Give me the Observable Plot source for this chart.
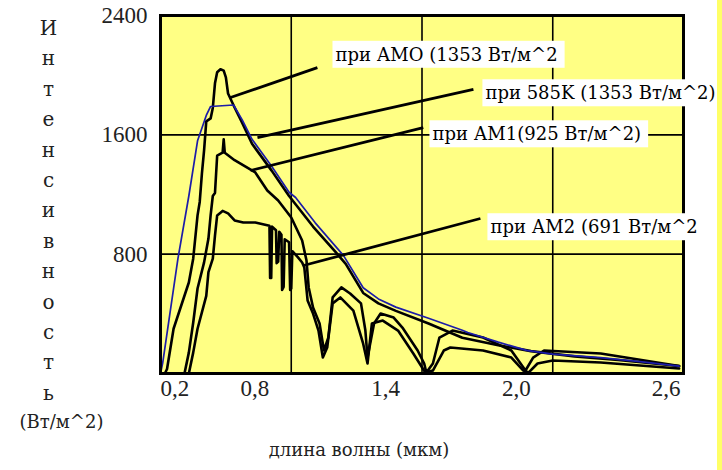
<!DOCTYPE html>
<html><head><meta charset="utf-8">
<script src="https://cdn.jsdelivr.net/npm/d3@7"></script>
<script src="https://cdn.jsdelivr.net/npm/@observablehq/plot@0.6"></script>
<style>
html,body{margin:0;padding:0;background:#fff;}
#wrap{position:relative;width:722px;height:470px;overflow:hidden;background:#fff;}
#strip{position:absolute;left:717px;top:0;width:5px;height:470px;background:#ffff66;}
</style></head><body><div id="wrap"><div id="strip"></div></div>
<script>
// x tick values and labels (wavelength, µm)
const xTicks = [0.2, 0.8, 1.4, 2.0, 2.6];
const xTickLabels = ["0,2", "0,8", "1,4", "2,0", "2,6"];
const xGrid = [0.8, 1.4, 2.0];
// y ticks (W/m^2)
const yTicks = [800, 1600, 2400];
const yGrid = [800, 1600];

const yTitle = "Интенсивность";
const yUnit = "(Вт/м^2)";
const xTitle = "длина волны (мкм)";

// 585K black body curve (blue)
const bb585 = [[0.20,0],[0.21,70],[0.28,770],[0.33,1190],[0.37,1560],[0.41,1730],[0.43,1790],[0.535,1800],[0.575,1700],[0.62,1570],[0.71,1390],[0.79,1215],[0.82,1180],[0.91,1010],[1.04,790],[1.13,575],[1.20,500],[1.28,445],[1.43,370],[1.585,290],[1.61,275],[1.75,210],[1.88,155],[2.0,130],[2.22,107],[2.40,80],[2.58,50]];
// AM0
const am0 = [[0.22,0],[0.23,30],[0.26,300],[0.33,610],[0.35,770],[0.37,1060],[0.38,1150],[0.39,1340],[0.40,1495],[0.41,1690],[0.43,1710],[0.44,1780],[0.45,1945],[0.46,2020],[0.475,2040],[0.49,2030],[0.50,1985],[0.51,1877],[0.54,1783],[0.575,1680],[0.62,1540],[0.71,1360],[0.79,1190],[0.90,985],[1.0,820],[1.05,735],[1.13,540],[1.20,470],[1.28,420],[1.43,335],[1.585,240],[1.75,190],[1.90,150],[2.1,115],[2.3,90],[2.58,50]];
// AM1
const am1 = [[0.31,0],[0.33,140],[0.35,340],[0.37,570],[0.40,745],[0.42,905],[0.43,1060],[0.44,1190],[0.45,1210],[0.46,1460],[0.485,1480],[0.49,1570],[0.495,1480],[0.54,1430],[0.635,1348],[0.69,1227],[0.74,1160],[0.80,1046],[0.85,892],[0.87,757],[0.88,577],[0.90,442],[0.93,335],[0.95,154],[0.97,241],[0.99,510],[1.03,577],[1.07,536],[1.12,470],[1.14,290],[1.15,107],[1.18,335],[1.21,402],[1.27,375],[1.31,308],[1.38,154],[1.41,67],[1.42,7],[1.45,67],[1.48,241],[1.54,288],[1.68,241],[1.81,154],[1.875,20],[1.91,107],[1.96,154],[2.22,134],[2.58,50]];
// AM2
const am2 = [[0.33,0],[0.35,140],[0.37,300],[0.41,520],[0.42,680],[0.44,770],[0.45,925],[0.46,1060],[0.485,1090],[0.51,1073],[0.54,1026],[0.58,1012],[0.635,1012],[0.70,990],[0.703,640],[0.708,640],[0.712,985],[0.73,960],[0.733,740],[0.74,750],[0.745,950],[0.755,930],[0.758,560],[0.765,580],[0.77,900],[0.79,880],[0.795,560],[0.80,570],[0.805,820],[0.83,780],[0.85,744],[0.86,710],[0.875,490],[0.90,402],[0.925,288],[0.945,107],[0.965,174],[0.99,470],[1.025,510],[1.085,422],[1.13,200],[1.15,67],[1.17,335],[1.22,355],[1.29,288],[1.36,134],[1.415,7],[1.45,20],[1.50,154],[1.53,174],[1.68,154],[1.81,107],[1.865,20],[1.89,7],[1.93,67],[2.0,87],[2.22,74],[2.58,34]];

// annotation labels with leader lines (data units)
const annLabels = ["при АМО (1353 Вт/м^2", "при 585K (1353 Вт/м^2)", "при АМ1(925 Вт/м^2)", "при АМ2 (691 Вт/м^2"];
const annTextX = [1.003, 1.691, 1.448, 1.714];
const annTextY = [2135, 1877, 1602, 979];
const annFromX = [0.521, 0.645, 0.613, 0.856];
const annFromY = [1850, 1582, 1361, 724];
const annToX = [0.920, 1.636, 1.406, 1.668];
const annToY = [2051, 1904, 1649, 1039];
const ann = annLabels.map((t, i) => ({t, tx: annTextX[i], ty: annTextY[i], x1: annFromX[i], y1: annFromY[i], x2: annToX[i], y2: annToY[i]}));

const xt = xTicks.map((v, i) => ({v, t: xTickLabels[i]}));

const chart = Plot.plot({
  width: 722, height: 470,
  marginLeft: 160, marginRight: 39, marginTop: 15, marginBottom: 97,
  style: {background: "transparent", fontFamily: "Liberation Serif", overflow: "visible"},
  x: {domain: [0.2, 2.6], axis: null},
  y: {domain: [0, 2400], axis: null},
  marks: [
    Plot.frame({fill: "#ffff84", stroke: "none"}),
    Plot.ruleX(xGrid, {stroke: "#000", strokeWidth: 1.6}),
    Plot.ruleY(yGrid, {stroke: "#000", strokeWidth: 1.6}),
    Plot.line(am2, {x: d => d[0], y: d => d[1], stroke: "#000", strokeWidth: 2.6}),
    Plot.line(am1, {x: d => d[0], y: d => d[1], stroke: "#000", strokeWidth: 2.6}),
    Plot.line(am0, {x: d => d[0], y: d => d[1], stroke: "#000", strokeWidth: 2.6}),
    Plot.line(bb585, {x: d => d[0], y: d => d[1], stroke: "#1c1ca8", strokeWidth: 1.7}),
    Plot.frame({stroke: "#000", strokeWidth: 3}),
    Plot.axisY(yTicks, {tickSize: 0, tickPadding: 13, fontSize: 23, fill: "#222", tickFormat: d => String(d), label: null, fontFamily: "Liberation Serif"}),
    Plot.text(xt.filter((d, i) => i === 0), {x: "v", text: "t", frameAnchor: "bottom", dy: 22, textAnchor: "start", fontSize: 23, fill: "#222"}),
    Plot.text(xt.filter((d, i) => i > 0 && i < xt.length - 1), {x: "v", text: "t", frameAnchor: "bottom", dy: 22, dx: -22, textAnchor: "end", fontSize: 23, fill: "#222"}),
    Plot.text(xt.filter((d, i) => i === xt.length - 1), {x: "v", text: "t", frameAnchor: "bottom", dy: 22, dx: -3, textAnchor: "end", fontSize: 23, fill: "#222"}),
    Plot.link(ann, {x1: "x1", y1: "y1", x2: "x2", y2: "y2", stroke: "#000", strokeWidth: 2.8}),
    Plot.text(ann, {x: "tx", y: "ty", text: "t", textAnchor: "start", fontSize: 18, fontFamily: "DejaVu Serif", fill: "#000"}),
    Plot.text([yTitle], {frameAnchor: "top-left", dx: -112, dy: -2, text: d => d.split("").join("\n"), lineAnchor: "top", lineHeight: 1.52, fontSize: 20, fontFamily: "DejaVu Serif", textAnchor: "middle", fill: "#222"}),
    Plot.text([yUnit], {frameAnchor: "bottom-left", dx: -99, dy: 54, text: d => d, fontSize: 18, fontFamily: "DejaVu Serif", textAnchor: "middle", fill: "#222"}),
    Plot.text([xTitle], {frameAnchor: "bottom", dx: -63, dy: 82, text: d => d, fontSize: 18, fontFamily: "DejaVu Serif", textAnchor: "middle", fill: "#222"})
  ]
});
document.getElementById("wrap").append(chart);
const svgNS = "http://www.w3.org/2000/svg";
chart.querySelectorAll("text").forEach(t => {
  if (!annLabels.includes(t.textContent)) return;
  const b = t.getBBox();
  const r = document.createElementNS(svgNS, "rect");
  r.setAttribute("x", b.x - 3);
  r.setAttribute("y", b.y - 3);
  r.setAttribute("width", b.width + 10);
  r.setAttribute("height", b.height + 6);
  r.setAttribute("fill", "#fff");
  r.setAttribute("stroke", "none");
  if (t.getAttribute("transform")) r.setAttribute("transform", t.getAttribute("transform"));
  t.parentNode.insertBefore(r, t);
});
</script>
</body></html>
